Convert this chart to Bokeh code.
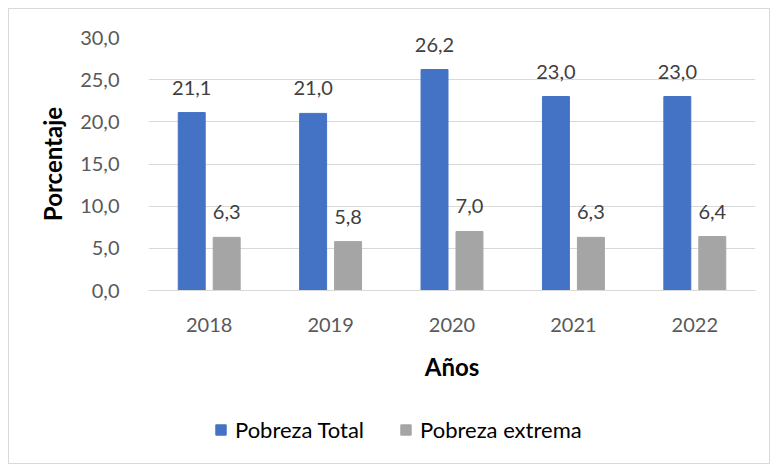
from bokeh.plotting import figure
from bokeh.models import (ColumnDataSource, LabelSet, Legend, LegendItem, FixedTicker,
                          CustomJSTickFormatter, Range1d, Spacer)
from bokeh.layouts import column, row
from bokeh.transform import dodge
from bokeh.core.properties import value
from bokeh.embed import file_html
from bokeh.resources import INLINE

years = ["2018", "2019", "2020", "2021", "2022"]
pobreza_total = [21.1, 21.0, 26.2, 23.0, 23.0]
pobreza_extrema = [6.3, 5.8, 7.0, 6.3, 6.4]
y_ticks = [0, 5, 10, 15, 20, 25, 30]
series_names = ["Pobreza Total", "Pobreza extrema"]

FONT = "Lato"
BLUE = "#4472C4"
GRAY = "#A5A5A5"

src = ColumnDataSource(dict(
    year=years,
    total=pobreza_total,
    extrema=pobreza_extrema,
    total_lbl=[f"{v:.1f}".replace(".", ",") for v in pobreza_total],
    extrema_lbl=[f"{v:.1f}".replace(".", ",") for v in pobreza_extrema],
))

p = figure(x_range=years, y_range=(0, 30), width=760, height=381,
           output_backend="svg", toolbar_location=None,
           min_border_left=139, min_border_right=14, min_border_top=28, min_border_bottom=100)
p.outline_line_color = None
p.background_fill_color = "white"
p.border_fill_color = "white"

p.vbar(x=dodge("year", -0.144, range=p.x_range), top="total", width=0.222,
       source=src, color=BLUE)
p.vbar(x=dodge("year", 0.144, range=p.x_range), top="extrema", width=0.222,
       source=src, color=GRAY)

p.add_layout(LabelSet(x=dodge("year", -0.144, range=p.x_range), y="total", text="total_lbl",
                      source=src, text_align="center", text_baseline="bottom", y_offset=18,
                      text_font=value(FONT), text_font_size="20px", text_color="#404040"))
p.add_layout(LabelSet(x=dodge("year", 0.144, range=p.x_range), y="extrema", text="extrema_lbl",
                      source=src, text_align="center", text_baseline="bottom", y_offset=18,
                      text_font=value(FONT), text_font_size="20px", text_color="#404040"))

p.yaxis.ticker = FixedTicker(ticks=y_ticks)
p.yaxis.formatter = CustomJSTickFormatter(code="return tick.toFixed(1).replace('.', ',');")
p.yaxis.axis_line_color = None
p.yaxis.major_tick_line_color = None
p.yaxis.minor_tick_line_color = None
p.yaxis.major_label_standoff = 23
p.yaxis.axis_label = "Porcentaje"
p.yaxis.axis_label_standoff = 10

p.xaxis.axis_line_color = "#d9d9d9"
p.xaxis.major_tick_line_color = None
p.xaxis.minor_tick_line_color = None
p.xaxis.major_label_standoff = 21
p.xaxis.axis_label = "Años"
p.xaxis.axis_label_standoff = 17

for ax in (p.xaxis[0], p.yaxis[0]):
    ax.major_label_text_font = FONT
    ax.major_label_text_font_size = "20px"
    ax.major_label_text_color = "#595959"
    ax.axis_label_text_font = FONT
    ax.axis_label_text_font_size = "24px"
    ax.axis_label_text_font_style = "bold"
    ax.axis_label_text_color = "#000000"

p.xgrid.grid_line_color = None
p.ygrid.grid_line_color = "#d9d9d9"
p.ygrid.grid_line_width = 1

# legend strip (its frame is aligned with the main plot's frame by the column layout)
q = figure(width=760, height=73, x_range=years, y_range=Range1d(100, 101),
           output_backend="svg", toolbar_location=None,
           min_border_left=139, min_border_right=14, min_border_top=0, min_border_bottom=0)
q.axis.visible = False
q.grid.visible = False
q.outline_line_color = None
q.border_fill_color = "white"
lr1 = q.vbar(x="year", top="total", width=0.2, source=src, color=BLUE)
lr2 = q.vbar(x="year", top="extrema", width=0.2, source=src, color=GRAY)
legend = Legend(items=[LegendItem(label=series_names[0], renderers=[lr1]),
                       LegendItem(label=series_names[1], renderers=[lr2])],
                orientation="horizontal", location=(66, 20),
                glyph_width=13, glyph_height=13, label_standoff=8, spacing=35,
                padding=0, margin=0, border_line_color=None, background_fill_alpha=0,
                label_text_font=FONT, label_text_font_size="22px", label_text_color="#000000")
q.add_layout(legend, "center")

box = column(p, q, styles={"border": "1px solid #d9d9d9"})
layout = column(Spacer(height=8), row(Spacer(width=8), box))

open("out.html", "w").write(file_html(layout, INLINE))
